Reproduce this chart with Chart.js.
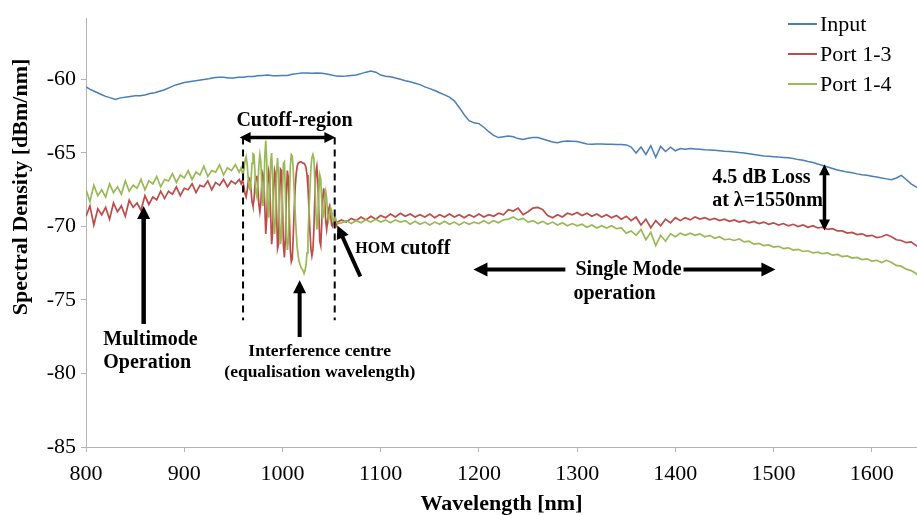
<!DOCTYPE html>
<html>
<head>
<meta charset="utf-8">
<script src="https://cdn.jsdelivr.net/npm/chart.js@4/dist/chart.umd.min.js"></script>
<style>
  body { margin: 0; background: #fff; }
</style>
</head>
<body>
<canvas id="chart" width="917" height="515"></canvas>
<script>
// Input spectrum, 5 nm grid
const inputWl = [
  800, 805, 810, 815, 820, 825, 830, 835, 840, 845,
  850, 855, 860, 865, 870, 875, 880, 885, 890, 895,
  900, 905, 910, 915, 920, 925, 930, 935, 940, 945,
  950, 955, 960, 965, 970, 975, 980, 985, 990, 995,
  1000, 1005, 1010, 1015, 1020, 1025, 1030, 1035, 1040, 1045,
  1050, 1055, 1060, 1065, 1070, 1075, 1080, 1085, 1090, 1095,
  1100, 1105, 1110, 1115, 1120, 1125, 1130, 1135, 1140, 1145,
  1150, 1155, 1160, 1165, 1170, 1175, 1180, 1185, 1190, 1195,
  1200, 1205, 1210, 1215, 1220, 1225, 1230, 1235, 1240, 1245,
  1250, 1255, 1260, 1265, 1270, 1275, 1280, 1285, 1290, 1295,
  1300, 1305, 1310, 1315, 1320, 1325, 1330, 1335, 1340, 1345,
  1350, 1355, 1360, 1365, 1370, 1375, 1380, 1385, 1390, 1395,
  1400, 1405, 1410, 1415, 1420, 1425, 1430, 1435, 1440, 1445,
  1450, 1455, 1460, 1465, 1470, 1475, 1480, 1485, 1490, 1495,
  1500, 1505, 1510, 1515, 1520, 1525, 1530, 1535, 1540, 1545,
  1550, 1555, 1560, 1565, 1570, 1575, 1580, 1585, 1590, 1595,
  1600, 1605, 1610, 1615, 1620, 1625, 1630, 1635, 1640, 1645,
  1648
];
const inputDb = [
  -60.5, -60.7, -60.85, -61.0, -61.15, -61.25, -61.35, -61.25, -61.2, -61.15,
  -61.1, -61.1, -61.05, -60.95, -60.9, -60.8, -60.7, -60.55, -60.4, -60.3,
  -60.2, -60.15, -60.1, -60.05, -60.0, -59.95, -59.88, -59.85, -59.85, -59.9,
  -59.9, -59.85, -59.85, -59.8, -59.8, -59.75, -59.72, -59.7, -59.75, -59.74,
  -59.72, -59.72, -59.65, -59.6, -59.56, -59.56, -59.57, -59.56, -59.57, -59.62,
  -59.7, -59.77, -59.78, -59.76, -59.72, -59.7, -59.6, -59.5, -59.42, -59.5,
  -59.7, -59.78, -59.82, -59.9, -59.98, -60.08, -60.15, -60.25, -60.35, -60.5,
  -60.62, -60.75, -60.9, -61.05, -61.2, -61.45, -61.9, -62.4, -62.8, -62.95,
  -63.0, -63.25, -63.55, -63.8, -63.95, -63.9, -63.85, -63.9, -64.02, -64.08,
  -64.0, -63.95, -63.95, -64.05, -64.15, -64.25, -64.3, -64.22, -64.18, -64.2,
  -64.22, -64.3, -64.38, -64.4, -64.38, -64.38, -64.4, -64.4, -64.42, -64.42,
  -64.45, -64.6, -65.0, -64.6, -65.1, -64.5, -65.3, -64.55, -64.9, -64.6,
  -64.85, -64.7, -64.75, -64.7, -64.72, -64.75, -64.78, -64.8, -64.82, -64.85,
  -64.88, -64.9, -64.93, -64.97, -65.0, -65.05, -65.1, -65.15, -65.2, -65.22,
  -65.25, -65.28, -65.3, -65.33, -65.38, -65.45, -65.5, -65.58, -65.65, -65.75,
  -65.85, -65.95, -66.05, -66.15, -66.22, -66.3, -66.35, -66.42, -66.48, -66.52,
  -66.58, -66.64, -66.7, -66.76, -66.82, -66.7, -66.52, -66.8, -67.1, -67.3,
  -67.4
];

// port outputs: 4 nm grid, 1 nm in the cutoff region, 5 nm afterwards
const portWl = [
  800, 804, 808, 812, 816, 820, 824, 828, 832, 836,
  840, 844, 848, 852, 856, 860, 864, 868, 872, 876,
  880, 884, 888, 892, 896, 900, 904, 908, 912, 916,
  920, 924, 928, 932, 936, 940, 944, 948, 952, 956,
  958, 959, 960, 961, 962, 963, 964, 965, 966, 967,
  968, 969, 970, 971, 972, 973, 974, 975, 976, 977,
  978, 979, 980, 981, 982, 983, 984, 985, 986, 987,
  988, 989, 990, 991, 992, 993, 994, 995, 996, 997,
  998, 999, 1000, 1001, 1002, 1003, 1004, 1005, 1006, 1007,
  1008, 1009, 1010, 1011, 1012, 1013, 1014, 1015, 1016, 1017,
  1018, 1019, 1020, 1021, 1022, 1023, 1024, 1025, 1026, 1027,
  1028, 1029, 1030, 1031, 1032, 1033, 1034, 1035, 1036, 1037,
  1038, 1039, 1040, 1041, 1042, 1043, 1044, 1045, 1046, 1047,
  1048, 1049, 1050, 1051, 1052, 1053, 1054, 1055, 1056,
  1060, 1065, 1070, 1075, 1080, 1085, 1090, 1095, 1100, 1105,
  1110, 1115, 1120, 1125, 1130, 1135, 1140, 1145, 1150, 1155,
  1160, 1165, 1170, 1175, 1180, 1185, 1190, 1195, 1200, 1205,
  1210, 1215, 1220, 1225, 1230, 1235, 1240, 1245, 1250, 1255,
  1260, 1265, 1270, 1275, 1280, 1285, 1290, 1295, 1300, 1305,
  1310, 1315, 1320, 1325, 1330, 1335, 1340, 1345, 1350, 1355,
  1360, 1365, 1370, 1375, 1380, 1385, 1390, 1395, 1400, 1405,
  1410, 1415, 1420, 1425, 1430, 1435, 1440, 1445, 1450, 1455,
  1460, 1465, 1470, 1475, 1480, 1485, 1490, 1495, 1500, 1505,
  1510, 1515, 1520, 1525, 1530, 1535, 1540, 1545, 1550, 1555,
  1560, 1565, 1570, 1575, 1580, 1585, 1590, 1595, 1600, 1605,
  1610, 1615, 1620, 1625, 1630, 1635, 1640, 1645,
  1648
];
const port13 = [
  -69.3, -68.6, -69.9, -68.8, -69.2, -68.7, -69.5, -68.4, -69.0, -68.6,
  -69.3, -68.2, -68.7, -68.4, -68.9, -67.9, -68.5, -68.0, -68.2, -67.6,
  -68.1, -67.6, -67.8, -67.3, -67.9, -67.4, -67.5, -67.1, -67.7, -67.2,
  -67.3, -66.9, -67.5, -67.0, -67.2, -66.8, -67.3, -66.9, -67.1, -66.8,
  -67.1, -66.9, -67.0, -67.4, -67.8, -68.0, -67.6, -67.0, -66.7, -66.8,
  -67.5, -68.3, -68.6, -68.2, -67.2, -66.6, -66.6, -67.3, -68.5, -69.0,
  -68.4, -67.0, -66.4, -66.7, -68.6, -70.5, -69.5, -67.2, -66.3, -66.8,
  -69.2, -71.2, -70.4, -67.6, -66.2, -66.5, -69.0, -71.5, -71.2, -68.2,
  -66.1, -66.2, -68.4, -71.3, -72.1, -70.8, -67.9, -66.2, -66.7, -69.2,
  -71.6, -72.4, -72.2, -70.6, -68.8, -67.3, -66.4, -65.9, -65.7, -65.65,
  -65.6, -65.6, -65.65, -65.7, -65.7, -65.8, -66.0, -66.5, -67.4, -68.8,
  -70.3, -71.5, -72.0, -71.6, -70.2, -68.0, -66.3, -65.9, -66.8, -69.0,
  -71.0, -71.3, -69.8, -68.0, -67.4, -68.2, -69.6, -70.2, -69.6, -68.8,
  -68.6, -69.2, -69.9, -70.0, -69.6, -69.4, -69.6, -69.9, -69.7,
  -69.55, -69.7, -69.45, -69.6, -69.35, -69.55, -69.3, -69.5, -69.25, -69.4,
  -69.15, -69.35, -69.1, -69.3, -69.15, -69.35, -69.2, -69.35, -69.15, -69.4,
  -69.2, -69.35, -69.15, -69.35, -69.2, -69.4, -69.2, -69.35, -69.15, -69.35,
  -69.2, -69.3, -69.1, -69.2, -68.85, -68.95, -68.75, -69.2, -69.0, -68.75,
  -68.7, -68.85, -69.25, -69.4, -69.2, -69.35, -69.1, -69.2, -69.05, -69.25,
  -69.1, -69.3, -69.15, -69.35, -69.2, -69.4, -69.25, -69.5, -69.3, -69.6,
  -69.35, -69.9, -69.5, -70.1, -69.6, -69.95, -69.5, -69.75, -69.4, -69.6,
  -69.4, -69.55, -69.35, -69.5, -69.4, -69.55, -69.45, -69.6, -69.5, -69.65,
  -69.55, -69.7, -69.6, -69.75, -69.65, -69.8, -69.7, -69.85, -69.75, -69.9,
  -69.8, -69.95, -69.85, -70.0, -69.9, -70.05, -69.95, -70.1, -70.05, -70.2,
  -70.15, -70.3, -70.3, -70.45, -70.4, -70.55, -70.5, -70.65, -70.6, -70.75,
  -70.7, -70.55, -70.7, -70.9, -70.95, -71.1, -71.05, -71.3,
  -71.4
];
const port14 = [
  -67.5, -68.3, -67.2, -67.9, -67.5, -68.0, -67.1, -67.7, -67.3, -67.8,
  -66.9, -67.6, -67.2, -67.4, -66.8, -67.5, -66.9, -67.1, -66.6, -67.3,
  -66.8, -66.9, -66.4, -67.0, -66.5, -66.7, -66.2, -66.8, -66.3, -66.5,
  -65.9, -66.6, -66.2, -66.3, -65.8, -66.5, -66.0, -66.2, -65.8, -66.3,
  -66.0, -66.3, -66.5, -66.0, -65.5, -65.25, -65.7, -66.6, -67.4, -67.5,
  -66.8, -65.7, -65.05, -65.1, -66.3, -67.7, -68.0, -67.2, -65.8, -65.1,
  -65.6, -67.3, -68.6, -67.9, -65.3, -64.15, -65.6, -68.3, -69.4, -68.0,
  -65.6, -65.0, -66.8, -69.6, -70.5, -69.2, -66.3, -65.35, -66.5, -69.5,
  -71.2, -70.6, -67.6, -65.7, -65.6, -67.8, -70.6, -71.6, -70.9, -68.2,
  -65.9, -65.1, -65.2, -66.2, -67.6, -69.1, -70.4, -71.4, -72.0, -72.4,
  -72.6, -72.8, -72.9, -73.0, -73.2, -73.0, -72.6, -71.8, -70.6, -69.0,
  -67.4, -66.0, -65.3, -65.1, -65.4, -66.9, -68.9, -70.2, -69.6, -67.7,
  -66.5, -66.8, -68.3, -69.4, -69.2, -68.0, -67.6, -68.1, -69.2, -69.6,
  -69.2, -68.7, -68.9, -69.4, -69.7, -69.5, -69.4, -69.7, -69.8,
  -69.75, -69.6, -69.8, -69.6, -69.75, -69.55, -69.7, -69.5, -69.7, -69.55,
  -69.75, -69.55, -69.7, -69.6, -69.85, -69.65, -69.85, -69.7, -69.9, -69.7,
  -69.85, -69.65, -69.85, -69.7, -69.9, -69.7, -69.85, -69.7, -69.8, -69.6,
  -69.8, -69.6, -69.75, -69.55, -69.5, -69.35, -69.55, -69.45, -69.7, -69.6,
  -69.8, -69.65, -69.85, -69.7, -69.9, -69.75, -69.95, -69.8, -69.95, -69.85,
  -70.05, -69.9, -70.1, -69.95, -70.1, -69.95, -70.15, -70.1, -70.45, -70.3,
  -70.6, -70.2, -70.9, -70.4, -71.3, -70.6, -71.0, -70.5, -70.7, -70.45,
  -70.6, -70.45, -70.6, -70.5, -70.7, -70.6, -70.8, -70.7, -70.9, -70.85,
  -70.95, -70.85, -71.05, -71.0, -71.2, -71.15, -71.3, -71.25, -71.4, -71.35,
  -71.5, -71.45, -71.6, -71.55, -71.7, -71.65, -71.8, -71.75, -71.85, -71.8,
  -71.95, -71.9, -72.05, -72.0, -72.15, -72.1, -72.25, -72.2, -72.35, -72.3,
  -72.45, -72.3, -72.45, -72.65, -72.7, -72.9, -73.0, -73.2,
  -73.35
];

const seriesNames = ["Input", "Port 1-3", "Port 1-4"];
const seriesColors = ["#4a7ebb", "#be4b48", "#98b954"];

// annotations, in axis units (nm, dBm/nm)
const arrows = [
  { from: [956.4, -63.95], to: [1053.9, -63.95], both: true, w: 3.5, head: 11 },
  { from: [858.7, -76.63], to: [858.7, -68.6], w: 4.5, head: 13 },
  { from: [1017.5, -77.52], to: [1017.5, -73.65], w: 4, head: 13 },
  { from: [1079.3, -73.4], to: [1055.9, -69.93], w: 4, head: 13 },
  { from: [1288, -72.93], to: [1194.4, -72.93], w: 4, head: 14 },
  { from: [1408.3, -72.93], to: [1501.9, -72.93], w: 4, head: 14 },
  { from: [1551.8, -65.76], to: [1551.8, -70.27], both: true, w: 3.5, head: 11 },
];
const dashedLines = [
  { x: 959.9, y1: -63.95, y2: -76.38 },
  { x: 1053.2, y1: -63.95, y2: -76.38 },
];
const notes = [
  { text: "Cutoff-region", at: [1012.3, -62.79], align: "center", size: 20 },
  { text: "Multimode", at: [817.6, -77.72], align: "left", size: 20 },
  { text: "Operation", at: [817.6, -79.26], align: "left", size: 20 },
  { text: "Interference centre", at: [965.3, -78.52], align: "left", size: 17.5 },
  { text: "(equalisation wavelength)", at: [940.8, -79.91], align: "left", size: 17.5 },
  { text: "HOM", at: [1074.2, -71.49], align: "left", size: 16 },
  { text: "cutoff", at: [1120.1, -71.49], align: "left", size: 20 },
  { text: "Single Mode", at: [1298.3, -72.97], align: "left", size: 20 },
  { text: "operation", at: [1296.3, -74.57], align: "left", size: 20 },
  { text: "4.5 dB Loss", at: [1437.5, -66.67], align: "left", size: 20 },
  { text: "at \u03bb=1550nm", at: [1437.5, -68.26], align: "left", size: 20 },
];

const xTitle = "Wavelength [nm]";
const yTitle = "Spectral Density [dBm/nm]";
const FONT = '"Liberation Serif", "Times New Roman", serif';

function toPoints(xs, ys) {
  return ys.map((v, i) => ({ x: xs[i], y: v }));
}

function drawArrow(ctx, x1, y1, x2, y2, a) {
  const ang = Math.atan2(y2 - y1, x2 - x1);
  const hl = a.head, hw = a.head / 2;
  const cx = Math.cos(ang), sy = Math.sin(ang);
  const sx1 = a.both ? x1 + cx * (hl - 2) : x1;
  const sy1 = a.both ? y1 + sy * (hl - 2) : y1;
  ctx.lineWidth = a.w;
  ctx.beginPath();
  ctx.moveTo(sx1, sy1);
  ctx.lineTo(x2 - cx * (hl - 2), y2 - sy * (hl - 2));
  ctx.stroke();
  const head = (hx, hy, an) => {
    const c = Math.cos(an), s = Math.sin(an);
    ctx.beginPath();
    ctx.moveTo(hx, hy);
    ctx.lineTo(hx - c * hl - s * hw, hy - s * hl + c * hw);
    ctx.lineTo(hx - c * hl + s * hw, hy - s * hl - c * hw);
    ctx.closePath();
    ctx.fill();
  };
  head(x2, y2, ang);
  if (a.both) head(x1, y1, ang + Math.PI);
}

const extras = {
  id: "extras",
  afterDatasetsDraw(chart) {
    const { ctx, scales: { x, y } } = chart;
    ctx.save();
    ctx.strokeStyle = "#000";
    ctx.fillStyle = "#000";

    ctx.lineWidth = 2;
    ctx.setLineDash([7, 5]);
    dashedLines.forEach(d => {
      ctx.beginPath();
      ctx.moveTo(x.getPixelForValue(d.x), y.getPixelForValue(d.y1));
      ctx.lineTo(x.getPixelForValue(d.x), y.getPixelForValue(d.y2));
      ctx.stroke();
    });
    ctx.setLineDash([]);

    arrows.forEach(a => {
      drawArrow(ctx,
        x.getPixelForValue(a.from[0]), y.getPixelForValue(a.from[1]),
        x.getPixelForValue(a.to[0]), y.getPixelForValue(a.to[1]), a);
    });

    ctx.textBaseline = "middle";
    notes.forEach(n => {
      ctx.font = "bold " + n.size + "px " + FONT;
      ctx.textAlign = n.align;
      ctx.fillText(n.text, x.getPixelForValue(n.at[0]), y.getPixelForValue(n.at[1]));
    });

    // legend
    ctx.font = "22px " + FONT;
    ctx.textAlign = "left";
    chart.data.datasets.forEach((ds, i) => {
      const ly = 24 + i * 30;
      ctx.strokeStyle = ds.borderColor;
      ctx.lineWidth = 2;
      ctx.beginPath();
      ctx.moveTo(788, ly);
      ctx.lineTo(817, ly);
      ctx.stroke();
      ctx.fillStyle = "#000";
      ctx.fillText(ds.label, 820, ly + 1);
    });

    // axis titles
    ctx.font = "bold 22px " + FONT;
    ctx.textAlign = "center";
    ctx.fillText(xTitle, (chart.chartArea.left + chart.chartArea.right) / 2, 504);
    ctx.translate(21, 187);
    ctx.rotate(-Math.PI / 2);
    ctx.fillText(yTitle, 0, 0);
    ctx.restore();
  }
};

const keepStep = step => axis => {
  axis.ticks = axis.ticks.filter(t => Math.abs(Math.round(t.value / step) * step - t.value) < 1e-6);
};

const axisGrid = { drawOnChartArea: false, drawTicks: true, tickLength: 5, color: "#b4b4b4" };
const axisBorder = { color: "#b4b4b4", width: 1 };

new Chart(document.getElementById("chart"), {
  type: "line",
  data: {
    datasets: [
      { label: seriesNames[0], data: toPoints(inputWl, inputDb), borderColor: seriesColors[0], order: 3, borderWidth: 1.5 },
      { label: seriesNames[1], data: toPoints(portWl, port13), borderColor: seriesColors[1], order: 2 },
      { label: seriesNames[2], data: toPoints(portWl, port14), borderColor: seriesColors[2], order: 1 },
    ],
  },
  options: {
    responsive: false,
    animation: false,
    events: [],
    elements: {
      line: { borderWidth: 1.7, tension: 0, fill: false },
      point: { radius: 0 },
    },
    layout: { padding: { top: 11, left: 0, right: 0, bottom: 0 } },
    plugins: {
      legend: { display: false },
      tooltip: { enabled: false },
    },
    scales: {
      x: {
        type: "linear",
        min: 800,
        max: 1646,
        afterBuildTicks: keepStep(100),
        afterFit: axis => { axis.height = 68; },
        ticks: { stepSize: 100, includeBounds: false, color: "#000", padding: 9, maxRotation: 0, autoSkip: false,
                 callback: v => String(v),
                 font: { family: FONT, size: 22 } },
        grid: axisGrid,
        border: axisBorder,
      },
      y: {
        min: -85,
        max: -55.83,
        afterBuildTicks: keepStep(5),
        afterFit: axis => { axis.width = 86; },
        ticks: { stepSize: 5, includeBounds: false, color: "#000", padding: 5,
                 callback: v => String(v),
                 font: { family: FONT, size: 22 } },
        grid: axisGrid,
        border: axisBorder,
      },
    },
  },
  plugins: [extras],
});
</script>
</body>
</html>
